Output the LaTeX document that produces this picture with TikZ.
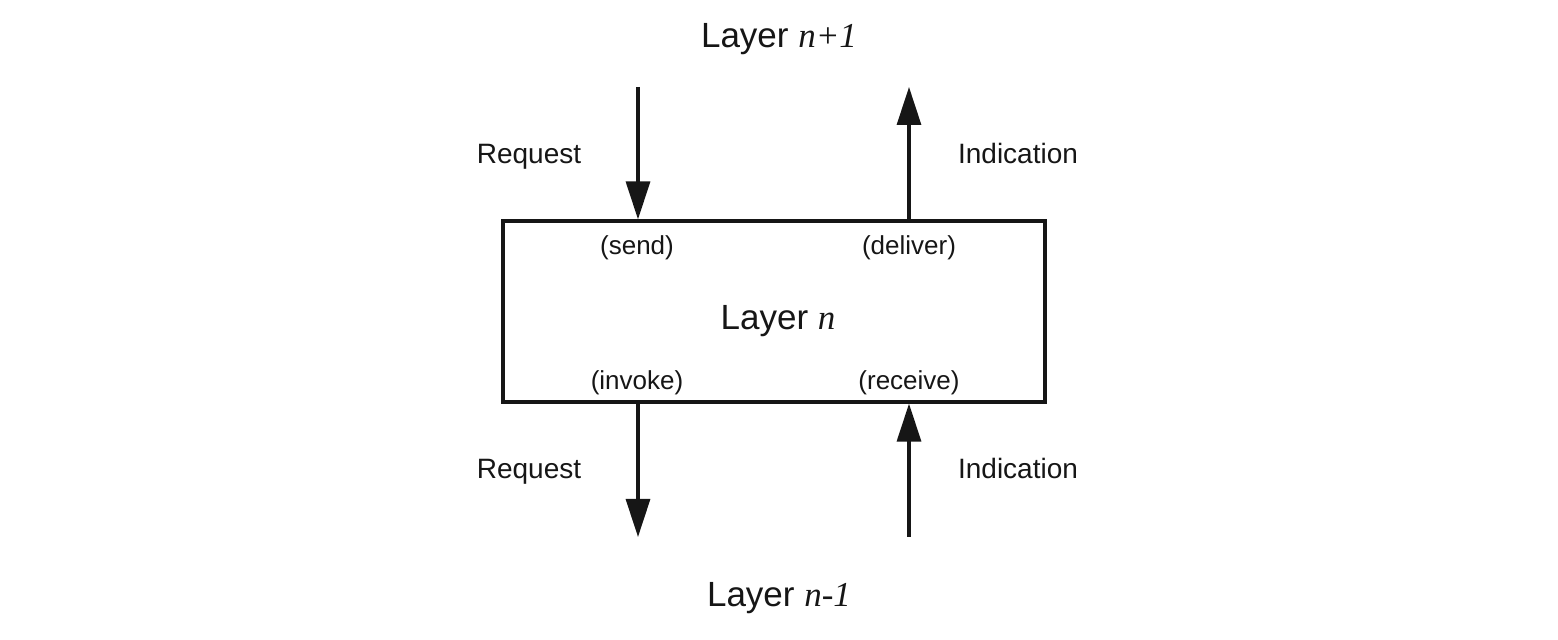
\documentclass[tikz,border=0pt]{standalone}
\usepackage{fontspec}
\setmainfont{Liberation Sans}
\newfontfamily\tms{Liberation Serif}
\usetikzlibrary{arrows.meta,positioning}

\definecolor{ink}{HTML}{161616}

\tikzset{
    arr/.style={ink,line width=1.6pt,-{Triangle[length=19pt,width=12pt]}},
    prim/.style={anchor=base,inner sep=0pt,text=ink,font=\fontsize{14}{16}\selectfont},
    call/.style={anchor=base,inner sep=0pt,text=ink,font=\fontsize{13}{15}\selectfont},
    lay/.style={anchor=base,inner sep=0pt,text=ink,font=\fontsize{17.5}{20}\selectfont}
}

\begin{document}
\begin{tikzpicture}[x=0.5pt,y=-0.5pt]
        \useasboundingbox (0,0) rectangle (1558,640);
        % the layer box
        \node[draw=ink,line width=1.6pt,minimum width=271pt,minimum height=90.5pt,inner sep=0pt] (layern) at (774,311.5) {};
        \node[lay] (lname) at (778,330) {Layer {\tms\itshape n}};
        \node[lay] (lup) at (779,48) {Layer {\tms\itshape n+1}};
        \node[lay] (ldown) at (779,607) {Layer {\tms\itshape n-1}};
        % primitive names inside the box
        \node[call] (send) at (637,255) {(send)};
        \node[call] (deliver) at (909,255) {(deliver)};
        \node[call] (invoke) at (637,390) {(invoke)};
        \node[call] (receive) at (909,390) {(receive)};
        % arrow ends
        \coordinate (reqin) at (638,87);
        \coordinate (indout) at (909,87);
        \coordinate (reqout) at (638,537);
        \coordinate (indin) at (909,537);
        \draw[arr] (reqin) -- (reqin |- layern.north);
        \draw[arr] (indout |- layern.north) -- (indout);
        \draw[arr] (reqout |- layern.south) -- (reqout);
        \draw[arr] (indin) -- (indin |- layern.south);
        % labels beside the arrows
        \node[prim] (requp) at (529,164) {Request};
        \node[prim] (indup) at (1018,164) {Indication};
        \node[prim] (reqdown) at (529,479) {Request};
        \node[prim] (inddown) at (1018,479) {Indication};
\end{tikzpicture}
\end{document}
